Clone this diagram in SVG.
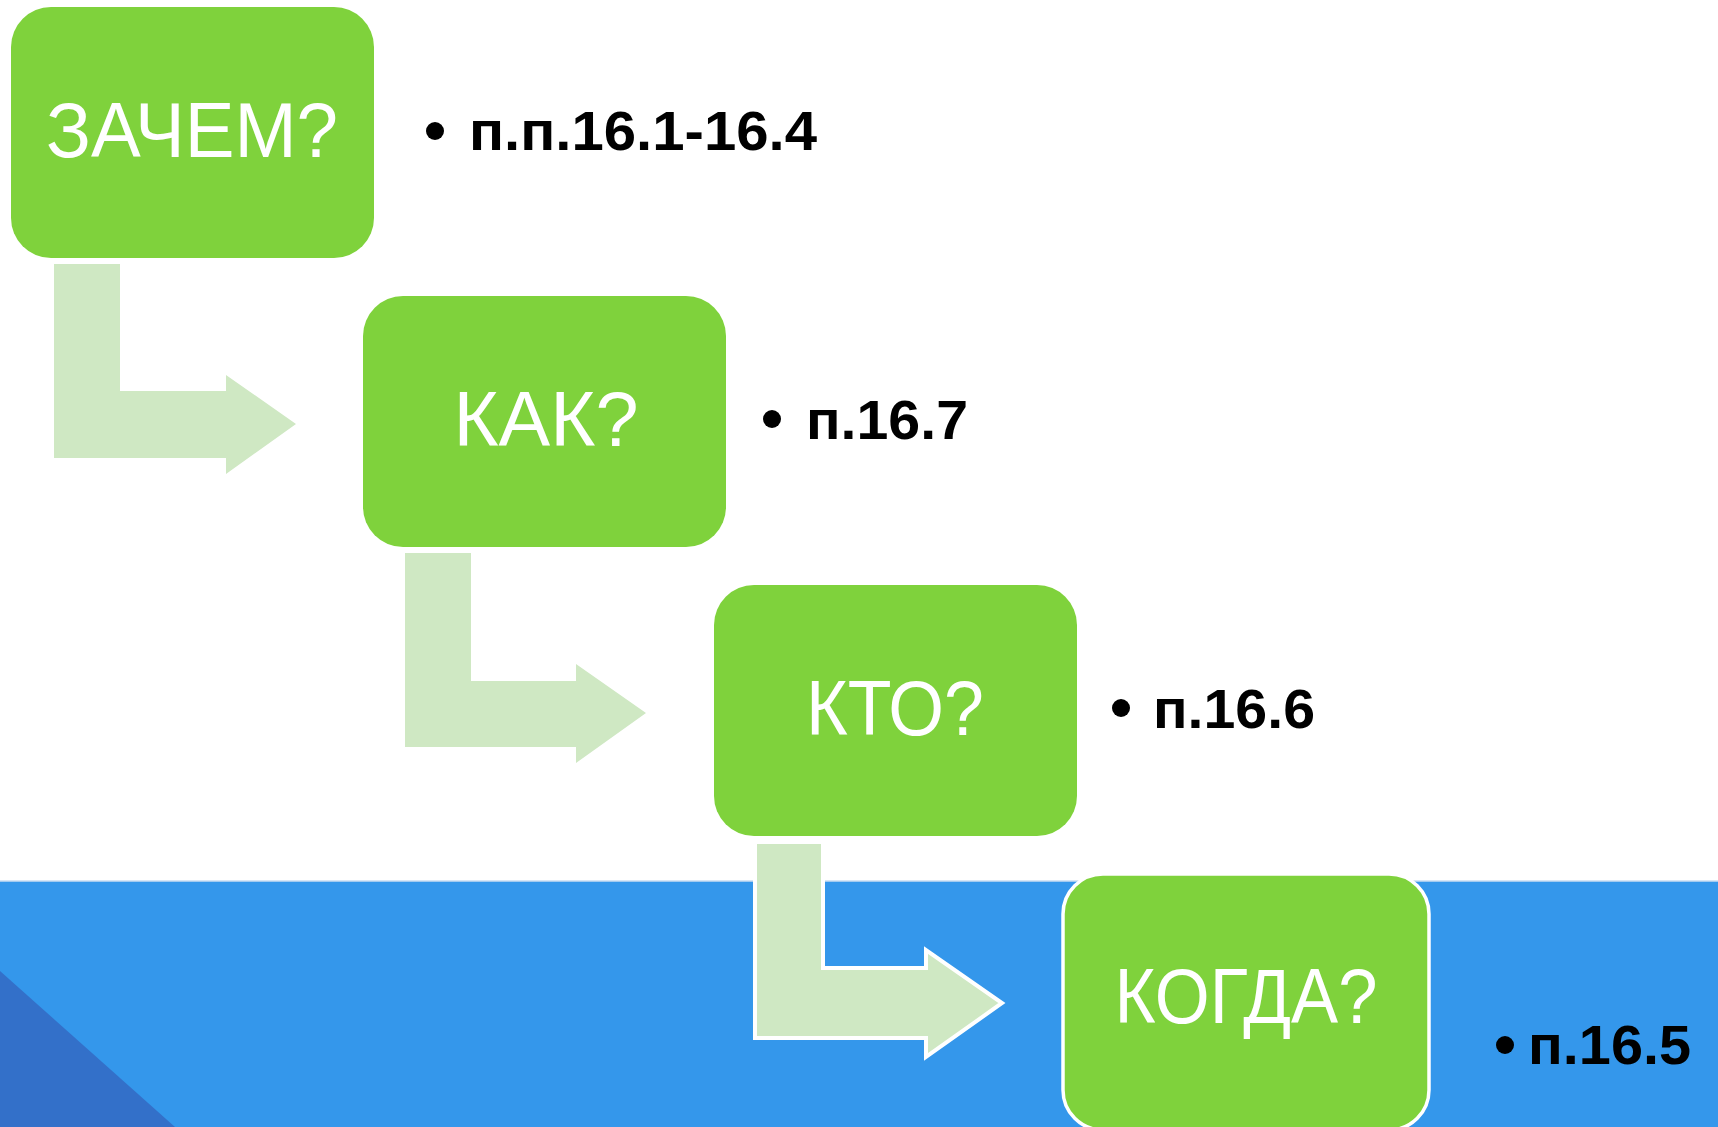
<svg xmlns="http://www.w3.org/2000/svg" width="1718" height="1127" viewBox="0 0 1718 1127">
<style>
.box{fill:#7FD23C;}
.box4{fill:#7FD23C;stroke:#FFFFFF;stroke-width:3.5;}
.conn{fill:#CFE8C3;}
.conn3{fill:#CFE8C3;stroke:#FFFFFF;stroke-width:4;}
.lbl{font-family:"Liberation Sans",Arial,sans-serif;font-size:78px;fill:#FFFFFF;text-anchor:middle;}
.ref{font-family:"Liberation Sans",Arial,sans-serif;font-weight:bold;font-size:56px;fill:#000000;}
</style>
<rect x="0" y="0" width="1718" height="1127" fill="#FFFFFF"/>
<rect x="0" y="881" width="1718" height="246" fill="#3497EB"/>
<line x1="0" y1="881" x2="1718" y2="881" stroke="#C9DDF2" stroke-width="1.5"/>
<polygon points="0,971 175,1127 0,1127" fill="#3370C9"/>
<g id="connectors">
<polygon class="conn" points="54,264 120,264 120,391 226,391 226,375 296,424 226,474 226,458 54,458"/>
<polygon class="conn" points="405,553 471,553 471,681 576,681 576,664 646,713 576,763 576,747 405,747"/>
<polygon class="conn3" points="755,842 823,842 823,968 926,968 926,950 1002,1003 926,1057 926,1038 755,1038"/>
</g>
<g id="node-zachem">
<rect class="box" x="11" y="7" width="363" height="251" rx="40"/>
<text class="lbl" x="192" y="157" textLength="292" lengthAdjust="spacingAndGlyphs">ЗАЧЕМ?</text>
</g>
<g id="ref-zachem">
<circle cx="435" cy="131" r="9"/>
<text class="ref" x="469" y="150" textLength="348" lengthAdjust="spacingAndGlyphs">п.п.16.1-16.4</text>
</g>
<g id="node-kak">
<rect class="box" x="363" y="296" width="363" height="251" rx="40"/>
<text class="lbl" x="546" y="446" textLength="185" lengthAdjust="spacingAndGlyphs">КАК?</text>
</g>
<g id="ref-kak">
<circle cx="772" cy="419" r="9"/>
<text class="ref" x="806" y="439" textLength="162" lengthAdjust="spacingAndGlyphs">п.16.7</text>
</g>
<g id="node-kto">
<rect class="box" x="714" y="585" width="363" height="251" rx="40"/>
<text class="lbl" x="895" y="735" textLength="178" lengthAdjust="spacingAndGlyphs">КТО?</text>
</g>
<g id="ref-kto">
<circle cx="1121" cy="708" r="9"/>
<text class="ref" x="1153" y="728" textLength="162" lengthAdjust="spacingAndGlyphs">п.16.6</text>
</g>
<g id="node-kogda">
<rect class="box4" x="1063" y="874" width="366" height="256" rx="40"/>
<text class="lbl" x="1246" y="1023" textLength="263" lengthAdjust="spacingAndGlyphs">КОГДА?</text>
</g>
<g id="ref-kogda">
<circle cx="1505" cy="1045" r="9"/>
<text class="ref" x="1528" y="1064" textLength="163" lengthAdjust="spacingAndGlyphs">п.16.5</text>
</g>
</svg>
